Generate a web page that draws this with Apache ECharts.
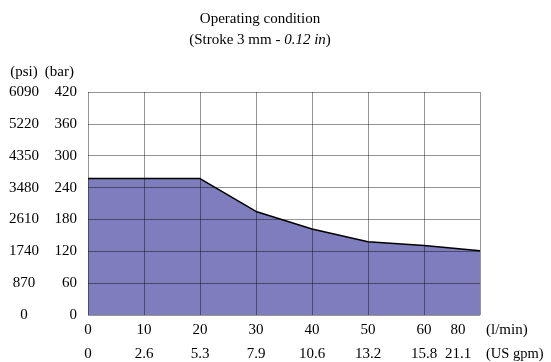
<!DOCTYPE html>
<html>
<head>
<meta charset="utf-8">
<script src="https://cdn.jsdelivr.net/npm/echarts@6/dist/echarts.min.js"></script>
<style>
    html, body { margin: 0; padding: 0; background: #fff; }
    #chart { width: 551px; height: 362px; }
</style>
</head>
<body>
<div id="chart"></div>
<script>
// flow in l/min and the matching US gpm labels
var flowLmin = ['0', '10', '20', '30', '40', '50', '60', '80'];
var flowGpm = ['0', '2.6', '5.3', '7.9', '10.6', '13.2', '15.8', '21.1'];
// pressure in bar
var pressureBar = [257, 257, 257, 195, 162, 138, 131, 121];
// pressure scales
var barTicks = { min: 0, max: 420, interval: 60 };
var psiTicks = { min: 0, max: 6090, interval: 870 };

var font = 'Liberation Serif';
var fs = 15;
var gridColor = 'rgba(0,0,0,0.42)';

function lastShift(value, index) {
    // the last label sits a bit left of the right border
    return index === flowLmin.length - 1 ? '{last|' + value + '}' : value;
}

var option = {
    animation: false,
    textStyle: { fontFamily: font, color: '#000' },
    title: {
        text: 'Operating condition',
        subtext: '(Stroke 3 mm - {i|0.12 in})',
        left: 255,
        top: 7,
        textAlign: 'center',
        itemGap: 6,
        textStyle: { fontFamily: font, fontSize: fs, fontWeight: 'normal', color: '#000' },
        subtextStyle: {
            fontFamily: font, fontSize: fs, color: '#000',
            rich: { i: { fontFamily: font, fontSize: fs, fontStyle: 'italic', color: '#000' } }
        }
    },
    grid: { left: 88, right: 71, top: 92, bottom: 47 },
    xAxis: [{
        type: 'category',
        data: flowLmin,
        boundaryGap: false,
        position: 'bottom',
        z: 5,
        name: '(l/min)',
        nameLocation: 'end',
        nameGap: 6,
        nameTextStyle: { fontFamily: font, fontSize: fs, color: '#000', align: 'left', verticalAlign: 'top', padding: [8, 0, 0, 0] },
        axisLine: { show: false },
        axisTick: { show: false },
        axisLabel: {
            fontFamily: font, fontSize: fs, color: '#000', margin: 8, interval: 0,
            formatter: lastShift,
            rich: { last: { fontFamily: font, fontSize: fs, color: '#000', padding: [0, 44, 0, 0] } }
        },
        splitLine: { show: true, lineStyle: { color: gridColor, width: 1 } }
    }, {
        type: 'category',
        data: flowGpm,
        boundaryGap: false,
        position: 'bottom',
        offset: 24,
        name: '(US gpm)',
        nameLocation: 'end',
        nameGap: 6,
        nameTextStyle: { fontFamily: font, fontSize: 14.5, color: '#000', align: 'left', verticalAlign: 'top', padding: [32, 0, 0, 0] },
        axisLine: { show: false },
        axisTick: { show: false },
        axisLabel: {
            fontFamily: font, fontSize: fs, color: '#000', margin: 8, interval: 0,
            formatter: lastShift,
            rich: { last: { fontFamily: font, fontSize: fs, color: '#000', padding: [0, 44, 0, 0] } }
        },
        splitLine: { show: false }
    }],
    yAxis: [{
        type: 'value',
        min: barTicks.min,
        max: barTicks.max,
        interval: barTicks.interval,
        z: 5,
        name: '(bar)',
        nameLocation: 'end',
        nameGap: 20,
        nameTextStyle: { fontFamily: font, fontSize: fs, color: '#000', align: 'right', verticalAlign: 'middle', padding: [0, 14, 0, 0] },
        axisLine: { show: false },
        axisTick: { show: false },
        axisLabel: { fontFamily: font, fontSize: fs, color: '#000', margin: 11 },
        splitLine: { show: true, lineStyle: { color: gridColor, width: 1 } }
    }, {
        type: 'value',
        position: 'left',
        offset: 64,
        min: psiTicks.min,
        max: psiTicks.max,
        interval: psiTicks.interval,
        name: '(psi)',
        nameLocation: 'end',
        nameGap: 20,
        nameTextStyle: { fontFamily: font, fontSize: fs, color: '#000', align: 'center', verticalAlign: 'middle' },
        axisLine: { show: false },
        axisTick: { show: false },
        axisLabel: {
            fontFamily: font, fontSize: fs, color: '#000', margin: 0, align: 'center',
            formatter: function (v) { return String(v); }
        },
        splitLine: { show: false }
    }],
    series: [{
        type: 'line',
        xAxisIndex: 0,
        yAxisIndex: 0,
        data: pressureBar,
        symbol: 'none',
        z: 2,
        lineStyle: { color: '#000', width: 1.5 },
        areaStyle: { color: '#7e7ebe', opacity: 1 }
    }]
};

var chart = echarts.init(document.getElementById('chart'), null, { renderer: 'canvas' });
chart.setOption(option);
</script>
</body>
</html>
